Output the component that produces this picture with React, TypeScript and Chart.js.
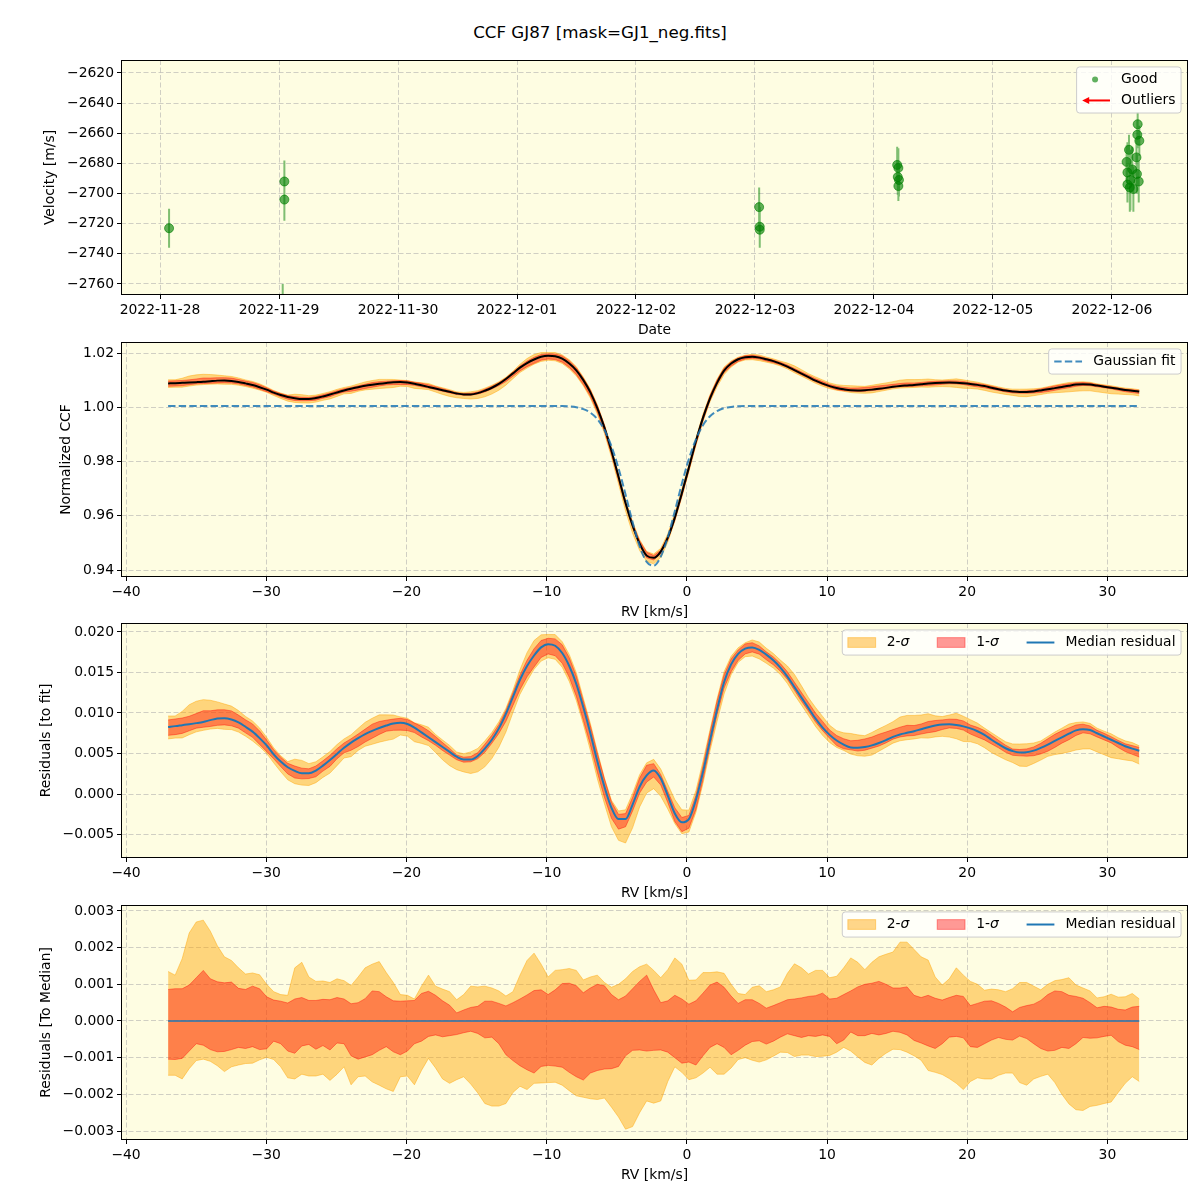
import React, { useEffect, useRef } from 'react';
import { Chart, registerables } from 'chart.js';

Chart.register(...registerables);

// ---------- figure text ----------
const FIG_TITLE = 'CCF GJ87 [mask=GJ1_neg.fits]';

// ---------- panel 1: RV time series ----------
// day offsets counted from 2022-11-28 00:00
const DATE_TICK_DAYS = [0, 1, 2, 3, 4, 5, 6, 7, 8];
const DATE_TICK_LABELS = [
  '2022-11-28', '2022-11-29', '2022-11-30', '2022-12-01', '2022-12-02',
  '2022-12-03', '2022-12-04', '2022-12-05', '2022-12-06',
];
const OBS_DAY = [
  0.076, 1.031, 1.045, 1.045, 5.035, 5.04, 5.04, 6.195, 6.205, 6.2, 6.21, 6.205,
  8.216, 8.213, 8.23, 8.143, 8.123, 8.206, 8.13, 8.17, 8.21, 8.155, 8.225, 8.15, 8.18, 8.13,
];
const OBS_RV = [
  -2723, -2785, -2692, -2704, -2709, -2722, -2724, -2681, -2683, -2689, -2691, -2695,
  -2654, -2661, -2665, -2671, -2679, -2676, -2686, -2684, -2687, -2691, -2692, -2696, -2697, -2694,
];
const OBS_ERR = [
  13, 25, 14, 14, 13, 13, 12, 12, 13, 12, 11, 10,
  8, 9, 10, 10, 11, 12, 20, 15, 13, 20, 14, 16, 15, 10,
];
const RV_TICKS_P1 = [-2760, -2740, -2720, -2700, -2680, -2660, -2640, -2620];

// ---------- panels 2-4: CCF profile on the RV grid ----------
const RV_START = -37.0;
const RV_STEP = 0.502;

// median residual to the Gaussian fit
const RESID_MEDIAN = [
  0.00828, 0.00838, 0.0085, 0.00862, 0.00875, 0.0089, 0.00912, 0.00932, 0.00936, 0.0092,
  0.00885, 0.0083, 0.0077, 0.0069, 0.006, 0.0049, 0.004, 0.0033, 0.00285, 0.00255,
  0.00255, 0.0029, 0.0035, 0.0042, 0.00495, 0.0057, 0.00635, 0.0069, 0.0074, 0.0078,
  0.00815, 0.00845, 0.0087, 0.0088, 0.00865, 0.0082, 0.0076, 0.007, 0.0064, 0.0058,
  0.0052, 0.0046, 0.00425, 0.00425, 0.0047, 0.0056, 0.0067, 0.0081, 0.0099, 0.012,
  0.0141, 0.0158, 0.0171, 0.0181, 0.0185, 0.0183, 0.0174, 0.0158, 0.0136, 0.0107,
  0.0075, 0.004, 0.0009, -0.0017, -0.0031, -0.0031, -0.0013, 0.0009, 0.0023, 0.0029,
  0.0019, -0.0002, -0.0024, -0.0035, -0.0031, -0.0007, 0.0027, 0.0066, 0.0104, 0.0138,
  0.016, 0.0173, 0.01795, 0.0181, 0.0178, 0.0172, 0.0165, 0.0156, 0.0145, 0.0132,
  0.0119, 0.0106, 0.0093, 0.0082, 0.0073, 0.0066, 0.0061, 0.00575, 0.0057, 0.0058,
  0.006, 0.0063, 0.00665, 0.00705, 0.00735, 0.00755, 0.00775, 0.008, 0.00825, 0.00845,
  0.00858, 0.0086, 0.00852, 0.00835, 0.0081, 0.00775, 0.0073, 0.0067, 0.00615, 0.00565,
  0.0053, 0.00512, 0.00515, 0.00535, 0.0057, 0.0061, 0.00655, 0.007, 0.00745, 0.00785,
  0.008, 0.0079, 0.0075, 0.0071, 0.0067, 0.0063, 0.0059, 0.0056, 0.00535,
];

// Gaussian fit to the CCF
const GAUSS_FIT = [
  1.0005, 1.0005, 1.0005, 1.0005, 1.0005, 1.0005, 1.0005, 1.0005, 1.0005, 1.0005,
  1.0005, 1.0005, 1.0005, 1.0005, 1.0005, 1.0005, 1.0005, 1.0005, 1.0005, 1.0005,
  1.0005, 1.0005, 1.0005, 1.0005, 1.0005, 1.0005, 1.0005, 1.0005, 1.0005, 1.0005,
  1.0005, 1.0005, 1.0005, 1.0005, 1.0005, 1.0005, 1.0005, 1.0005, 1.0005, 1.0005,
  1.0005, 1.0005, 1.0005, 1.0005, 1.0005, 1.0005, 1.0005, 1.0005, 1.0005, 1.0005,
  1.0005, 1.0005, 1.0005, 1.0005, 1.0005, 1.0005, 1.0005, 1.0003, 1.0, 0.9993,
  0.998, 0.9956, 0.9916, 0.9856, 0.9775, 0.9678, 0.9577, 0.9488, 0.943, 0.9416,
  0.9449, 0.9521, 0.9617, 0.9718, 0.9809, 0.9882, 0.9934, 0.9967, 0.9986, 0.9997,
  1.0001, 1.0004, 1.0005, 1.0005, 1.0005, 1.0005, 1.0005, 1.0005, 1.0005, 1.0005,
  1.0005, 1.0005, 1.0005, 1.0005, 1.0005, 1.0005, 1.0005, 1.0005, 1.0005, 1.0005,
  1.0005, 1.0005, 1.0005, 1.0005, 1.0005, 1.0005, 1.0005, 1.0005, 1.0005, 1.0005,
  1.0005, 1.0005, 1.0005, 1.0005, 1.0005, 1.0005, 1.0005, 1.0005, 1.0005, 1.0005,
  1.0005, 1.0005, 1.0005, 1.0005, 1.0005, 1.0005, 1.0005, 1.0005, 1.0005, 1.0005,
  1.0005, 1.0005, 1.0005, 1.0005, 1.0005, 1.0005, 1.0005, 1.0005, 1.0005,
];

// spread of the individual CCFs around the median, in units of 1e-3
const SPREAD_UNIT = 1e-3;
const Q2_HI = [
  1.35, 1.25, 1.7, 2.4, 2.7, 2.75, 2.45, 2.05, 1.75, 1.65,
  1.45, 1.28, 1.31, 1.26, 1.0, 0.8, 0.72, 0.7, 1.45, 1.6,
  1.2, 1.08, 1.09, 1.05, 1.15, 1.1, 0.97, 1.2, 1.45, 1.55,
  1.62, 1.32, 1.05, 0.72, 0.7, 0.6, 0.95, 1.25, 0.95, 0.87,
  0.8, 0.58, 0.72, 0.95, 0.93, 0.95, 0.9, 0.82, 0.68, 0.8,
  1.25, 1.65, 1.85, 1.55, 1.2, 1.38, 1.4, 1.43, 1.38, 1.12,
  1.2, 1.25, 1.05, 0.92, 1.0, 1.15, 1.35, 1.48, 1.55, 1.38,
  1.18, 1.4, 1.72, 1.55, 1.11, 1.12, 1.32, 1.32, 1.34, 1.3,
  1.0, 0.75, 0.72, 0.92, 0.96, 0.8, 0.85, 0.93, 1.3, 1.56,
  1.45, 1.28, 1.38, 1.38, 1.18, 1.22, 1.45, 1.72, 1.6, 1.4,
  1.6, 1.75, 1.82, 1.88, 2.15, 2.15, 1.95, 1.75, 1.66, 1.2,
  0.98, 1.15, 1.45, 1.25, 1.08, 1.0, 0.84, 0.87, 0.85, 0.8,
  0.88, 1.05, 1.05, 0.95, 0.85, 1.0, 1.1, 1.13, 1.18, 0.98,
  0.9, 0.82, 0.63, 0.66, 0.73, 0.65, 0.66, 0.75, 0.6,
];
const Q1_HI = [
  0.86, 0.88, 0.88, 0.98, 1.18, 1.38, 1.15, 1.07, 1.04, 1.06,
  0.89, 0.86, 0.95, 0.88, 0.66, 0.57, 0.54, 0.49, 0.6, 0.64,
  0.56, 0.56, 0.59, 0.58, 0.64, 0.6, 0.47, 0.5, 0.61, 0.82,
  0.8, 0.66, 0.55, 0.54, 0.55, 0.56, 0.75, 0.81, 0.7, 0.55,
  0.43, 0.22, 0.3, 0.37, 0.4, 0.54, 0.54, 0.48, 0.41, 0.5,
  0.6, 0.71, 0.83, 0.85, 0.72, 0.85, 1.02, 1.03, 0.96, 0.77,
  0.9, 1.0, 0.96, 0.72, 0.58, 0.68, 0.88, 1.08, 1.25, 0.85,
  0.5, 0.55, 0.7, 0.6, 0.46, 0.55, 0.76, 0.98, 1.06, 0.92,
  0.68, 0.48, 0.58, 0.58, 0.48, 0.35, 0.42, 0.5, 0.58, 0.6,
  0.63, 0.67, 0.69, 0.76, 0.6, 0.62, 0.72, 0.82, 0.93, 1.0,
  1.03, 1.08, 1.0, 0.9, 0.9, 0.93, 0.7, 0.64, 0.7, 0.62,
  0.57, 0.64, 0.7, 0.67, 0.42, 0.48, 0.54, 0.55, 0.48, 0.38,
  0.25, 0.37, 0.42, 0.46, 0.56, 0.72, 0.82, 0.8, 0.7, 0.67,
  0.62, 0.5, 0.36, 0.4, 0.38, 0.32, 0.3, 0.38, 0.4,
];
const Q1_LO = [
  -1.04, -1.05, -1.02, -0.82, -0.62, -0.66, -0.78, -0.84, -0.83, -0.78,
  -0.72, -0.75, -0.7, -0.78, -0.76, -0.55, -0.62, -0.82, -0.88, -0.68,
  -0.64, -0.77, -0.67, -0.79, -0.6, -0.62, -0.95, -1.04, -0.98, -0.92,
  -0.8, -0.7, -0.84, -0.92, -0.82, -0.62, -0.55, -0.42, -0.38, -0.43,
  -0.4, -0.37, -0.32, -0.28, -0.34, -0.46, -0.44, -0.62, -0.92, -1.08,
  -1.22, -1.33, -1.42, -1.24, -1.21, -1.23, -1.26, -1.4, -1.52, -1.61,
  -1.42, -1.35, -1.31, -1.3, -1.24, -0.95, -0.8, -0.79, -0.82, -0.8,
  -0.79, -0.85, -1.0, -1.15, -1.12, -1.2, -0.95, -0.72, -0.62, -0.72,
  -0.92, -0.8, -0.66, -0.56, -0.54, -0.63, -0.55, -0.44, -0.35, -0.4,
  -0.45, -0.4, -0.42, -0.38, -0.42, -0.62, -0.52, -0.3, -0.4, -0.4,
  -0.34, -0.38, -0.34, -0.28, -0.31, -0.38, -0.53, -0.6, -0.68, -0.75,
  -0.62, -0.44, -0.42, -0.46, -0.7, -0.72, -0.62, -0.52, -0.45, -0.5,
  -0.52, -0.41, -0.48, -0.62, -0.75, -0.82, -0.8, -0.72, -0.75, -0.62,
  -0.45, -0.47, -0.46, -0.42, -0.39, -0.56, -0.66, -0.7, -0.78,
];
const Q2_LO = [
  -1.48, -1.48, -1.58, -1.3, -1.08, -1.04, -1.1, -1.22, -1.38, -1.25,
  -1.2, -1.16, -1.15, -1.06, -0.99, -1.05, -1.25, -1.55, -1.58, -1.45,
  -1.5, -1.5, -1.45, -1.62, -1.45, -1.25, -1.74, -1.52, -1.5, -1.66,
  -1.75, -1.85, -1.92, -1.52, -1.5, -1.74, -1.35, -1.02, -1.28, -1.58,
  -1.7, -1.6, -1.52, -1.72, -1.96, -2.25, -2.32, -2.32, -2.25, -1.95,
  -1.78, -1.87, -1.7, -1.69, -1.68, -1.67, -1.75, -1.9, -2.04, -2.08,
  -2.12, -2.14, -2.1, -2.35, -2.62, -2.95, -2.88, -2.5, -2.18, -2.24,
  -2.18, -1.65, -1.25, -1.4, -1.6, -1.55, -1.42, -1.26, -1.45, -1.45,
  -1.28, -1.05, -1.0, -1.07, -1.12, -1.06, -0.96, -0.85, -0.86, -0.97,
  -0.93, -0.93, -0.97, -0.96, -0.94, -0.85, -0.72, -0.82, -0.98, -1.13,
  -1.2, -1.02, -0.88, -0.77, -0.78, -0.85, -0.95, -1.07, -1.35, -1.4,
  -1.46, -1.57, -1.7, -1.87, -1.65, -1.55, -1.58, -1.58, -1.48, -1.42,
  -1.42, -1.68, -1.75, -1.58, -1.51, -1.45, -1.68, -2.0, -2.26, -2.42,
  -2.44, -2.33, -2.3, -2.25, -2.21, -1.95, -1.7, -1.52, -1.65,
];

const RV_X_TICKS = [-40, -30, -20, -10, 0, 10, 20, 30];
const CCF_TICKS = [0.94, 0.96, 0.98, 1.0, 1.02];
const RESID_TICKS = [-0.005, 0, 0.005, 0.01, 0.015, 0.02];
const MEDIAN_TICKS = [-0.003, -0.002, -0.001, 0, 0.001, 0.002, 0.003];

// ---------- styling / layout ----------
const FONT_FAMILY = "'DejaVu Sans', 'Liberation Sans', sans-serif";
const FONT_SIZE = 13.9;
const FIG_W = 1200;
const AX_LEFT = 121;
const AX_RIGHT = 1188;
const AX_H = 235;
const PAD_TOP = 12;
const XAXIS_H = 50;
const PANEL_TOPS = [60, 342, 623, 905];

const BG = '#fefde2';
const GRID = 'rgba(170,170,170,0.55)';
const ORANGE = 'rgba(255,165,0,0.45)';
const RED = 'rgba(255,0,0,0.4)';
const C0 = '#1f77b4';
const FIT_BLUE = 'rgba(31,119,180,0.85)';
const GREEN_PT = 'rgba(0,128,0,0.62)';
const GREEN_BAR = 'rgba(0,128,0,0.5)';

Chart.defaults.font.family = FONT_FAMILY;
Chart.defaults.font.size = FONT_SIZE;
Chart.defaults.color = '#000';

const fmt = (v: number, d: number) => {
  const s = Math.abs(v).toFixed(d);
  return v < 0 && Number(s) !== 0 ? '\u2212' + s : s;
};

// ---------- derived tables ----------
const RV = RESID_MEDIAN.map((_, i) => RV_START + i * RV_STEP);
const CCF_MEDIAN = RESID_MEDIAN.map((r, i) => GAUSS_FIT[i] + r);
const ZERO_LINE = RESID_MEDIAN.map(() => 0);
const pts = (ys: number[]) => ys.map((y, i) => ({ x: RV[i], y }));
const around = (base: number[], q: number[]) => base.map((b, i) => ({ x: RV[i], y: b + q[i] * SPREAD_UNIT }));

// ---------- legend drawing ----------
type LegendEntry = {
  handle: 'dot' | 'arrow' | 'dash' | 'line' | 'patch';
  label: string;
  italicTail?: string;
  color: string;
  edge?: string;
};

function drawLegend(ctx: CanvasRenderingContext2D, area: any, entries: LegendEntry[], horizontal: boolean) {
  const fs = FONT_SIZE;
  const pad = 0.4 * fs;
  const hl = 2 * fs;
  const htp = 0.8 * fs;
  const colsp = 2 * fs;
  const lsp = 0.5 * fs;
  const rowH = 14;
  const normal = `${fs}px ${FONT_FAMILY}`;
  const italic = `italic ${fs}px ${FONT_FAMILY}`;
  const widths = entries.map((e) => {
    ctx.font = normal;
    let w = ctx.measureText(e.label).width;
    if (e.italicTail) {
      ctx.font = italic;
      w += ctx.measureText(e.italicTail).width;
    }
    return w;
  });
  let bw: number;
  let bh: number;
  if (horizontal) {
    bw = pad * 2 + widths.reduce((s, w) => s + hl + htp + w, 0) + colsp * (entries.length - 1);
    bh = pad * 2 + rowH;
  } else {
    bw = pad * 2 + hl + htp + Math.max(...widths);
    bh = pad * 2 + rowH * entries.length + lsp * (entries.length - 1);
  }
  const right = area.right - 0.5 * fs;
  const top = area.top + 0.5 * fs;
  const left = right - bw;

  ctx.save();
  const r = 3;
  ctx.beginPath();
  ctx.moveTo(left + r, top);
  ctx.lineTo(left + bw - r, top);
  ctx.arcTo(left + bw, top, left + bw, top + r, r);
  ctx.lineTo(left + bw, top + bh - r);
  ctx.arcTo(left + bw, top + bh, left + bw - r, top + bh, r);
  ctx.lineTo(left + r, top + bh);
  ctx.arcTo(left, top + bh, left, top + bh - r, r);
  ctx.lineTo(left, top + r);
  ctx.arcTo(left, top, left + r, top, r);
  ctx.closePath();
  ctx.fillStyle = 'rgba(255,255,255,0.8)';
  ctx.fill();
  ctx.strokeStyle = '#cccccc';
  ctx.lineWidth = 1;
  ctx.stroke();

  let x = left + pad;
  entries.forEach((e, i) => {
    const cy = horizontal ? top + pad + rowH / 2 : top + pad + rowH / 2 + i * (rowH + lsp);
    if (!horizontal) x = left + pad;
    ctx.save();
    if (e.handle === 'dot') {
      ctx.beginPath();
      ctx.arc(x + hl / 2 - 1, cy, 3, 0, Math.PI * 2);
      ctx.fillStyle = e.color;
      ctx.fill();
    } else if (e.handle === 'arrow') {
      ctx.strokeStyle = e.color;
      ctx.fillStyle = e.color;
      ctx.lineWidth = 2;
      ctx.beginPath();
      ctx.moveTo(x + hl, cy);
      ctx.lineTo(x + 5, cy);
      ctx.stroke();
      ctx.beginPath();
      ctx.moveTo(x, cy);
      ctx.lineTo(x + 7, cy - 3.5);
      ctx.lineTo(x + 7, cy + 3.5);
      ctx.closePath();
      ctx.fill();
    } else if (e.handle === 'dash' || e.handle === 'line') {
      ctx.strokeStyle = e.color;
      ctx.lineWidth = 2;
      if (e.handle === 'dash') ctx.setLineDash([7.4, 3.2]);
      ctx.beginPath();
      ctx.moveTo(x, cy);
      ctx.lineTo(x + hl, cy);
      ctx.stroke();
    } else {
      ctx.fillStyle = e.color;
      ctx.strokeStyle = e.edge || e.color;
      ctx.lineWidth = 1;
      ctx.fillRect(x, cy - 0.35 * fs, hl, 0.7 * fs);
      ctx.strokeRect(x, cy - 0.35 * fs, hl, 0.7 * fs);
    }
    ctx.restore();
    const tx = x + hl + htp;
    ctx.fillStyle = '#000';
    ctx.textBaseline = 'middle';
    ctx.textAlign = 'left';
    ctx.font = normal;
    ctx.fillText(e.label, tx, cy);
    if (e.italicTail) {
      const w0 = ctx.measureText(e.label).width;
      ctx.font = italic;
      ctx.fillText(e.italicTail, tx + w0, cy);
    }
    x = tx + widths[i] + colsp;
  });
  ctx.restore();
}

// ---------- per-chart decorations: background, frame, axis titles, legend ----------
function decor(opts: { xTitle: string; yTitle: string; yTitleX: number; legend: LegendEntry[]; horizontal: boolean }) {
  return {
    id: 'decor',
    beforeDraw(chart: any) {
      const { ctx, chartArea: a } = chart;
      ctx.save();
      ctx.fillStyle = BG;
      ctx.fillRect(a.left, a.top, a.right - a.left, a.bottom - a.top);
      ctx.restore();
    },
    afterDraw(chart: any) {
      const { ctx, chartArea: a } = chart;
      ctx.save();
      ctx.strokeStyle = '#000';
      ctx.lineWidth = 1;
      ctx.strokeRect(a.left + 0.5, a.top + 0.5, a.right - a.left - 1, a.bottom - a.top - 1);
      ctx.fillStyle = '#000';
      ctx.font = `${FONT_SIZE}px ${FONT_FAMILY}`;
      ctx.textAlign = 'center';
      ctx.textBaseline = 'middle';
      ctx.fillText(opts.xTitle, (a.left + a.right) / 2, a.bottom + 35);
      ctx.translate(opts.yTitleX, (a.top + a.bottom) / 2);
      ctx.rotate(-Math.PI / 2);
      ctx.fillText(opts.yTitle, 0, 0);
      ctx.restore();
      drawLegend(ctx, a, opts.legend, opts.horizontal);
    },
  };
}

function axisOptions(min: number, max: number, ticks: number[], label: (v: number) => string, isX: boolean) {
  return {
    type: 'linear',
    min,
    max,
    grid: { color: GRID, lineWidth: 1, drawTicks: true, tickLength: 4, tickColor: '#000', tickWidth: 1 },
    border: { display: false, dash: [5, 2.5] },
    ticks: {
      color: '#000',
      font: { family: FONT_FAMILY, size: FONT_SIZE },
      padding: 3,
      autoSkip: false,
      maxRotation: 0,
      minRotation: 0,
      callback: (v: number) => label(v),
    },
    afterBuildTicks: (scale: any) => {
      scale.ticks = ticks.map((value) => ({ value }));
    },
    afterFit: (scale: any) => {
      if (isX) scale.height = XAXIS_H;
      else scale.width = AX_LEFT;
    },
  };
}

function baseOptions(x: any, y: any) {
  return {
    responsive: false,
    maintainAspectRatio: false,
    animation: false,
    events: [],
    layout: { padding: { top: PAD_TOP, right: FIG_W - AX_RIGHT, left: 0, bottom: 0 } },
    plugins: { legend: { display: false }, tooltip: { enabled: false }, title: { display: false } },
    scales: { x, y },
  };
}

const RV_AXIS = () => axisOptions(-40.36, 35.75, RV_X_TICKS, (v) => fmt(v, 0), true);

function bandDatasets(base: number[]) {
  return [
    { data: around(base, Q2_LO), borderColor: ORANGE, borderWidth: 1, pointRadius: 0, fill: false, tension: 0, order: 6 },
    { data: around(base, Q2_HI), borderColor: ORANGE, backgroundColor: ORANGE, borderWidth: 1, pointRadius: 0, fill: '-1', tension: 0, order: 5 },
    { data: around(base, Q1_LO), borderColor: RED, borderWidth: 1, pointRadius: 0, fill: false, tension: 0, order: 4 },
    { data: around(base, Q1_HI), borderColor: RED, backgroundColor: RED, borderWidth: 1, pointRadius: 0, fill: '-1', tension: 0, order: 3 },
  ];
}

const SIGMA_LEGEND: LegendEntry[] = [
  { handle: 'patch', label: '2-', italicTail: '\u03c3', color: ORANGE },
  { handle: 'patch', label: '1-', italicTail: '\u03c3', color: RED },
  { handle: 'line', label: 'Median residual', color: C0 },
];

function timeSeriesConfig() {
  const points = OBS_DAY.map((d, i) => ({ x: d, y: OBS_RV[i] }));
  const bars: any[] = [];
  OBS_DAY.forEach((d, i) => {
    bars.push({ x: d, y: OBS_RV[i] - OBS_ERR[i] }, { x: d, y: OBS_RV[i] + OBS_ERR[i] }, { x: d, y: null });
  });
  return {
    type: 'line',
    data: {
      datasets: [
        { data: points, showLine: false, pointRadius: 4.5, pointBackgroundColor: GREEN_PT, pointBorderColor: GREEN_PT, pointBorderWidth: 1, clip: 0, order: 1 },
        { data: bars, borderColor: GREEN_BAR, borderWidth: 2, pointRadius: 0, spanGaps: false, clip: 0, order: 2 },
      ],
    },
    options: baseOptions(
      axisOptions(-0.328, 8.639, DATE_TICK_DAYS, (v) => DATE_TICK_LABELS[DATE_TICK_DAYS.indexOf(v)] ?? '', true),
      axisOptions(-2767.3, -2611.4, RV_TICKS_P1, (v) => fmt(v, 0), false),
    ),
    plugins: [
      decor({
        xTitle: 'Date',
        yTitle: 'Velocity [m/s]',
        yTitleX: 50,
        horizontal: false,
        legend: [
          { handle: 'dot', label: 'Good', color: GREEN_PT },
          { handle: 'arrow', label: 'Outliers', color: '#ff0000' },
        ],
      }),
    ],
  };
}

function ccfConfig() {
  return {
    type: 'line',
    data: {
      datasets: [
        ...bandDatasets(CCF_MEDIAN),
        { data: pts(CCF_MEDIAN), borderColor: '#000', borderWidth: 2, pointRadius: 0, cubicInterpolationMode: 'monotone', order: 2 },
        { data: pts(GAUSS_FIT), borderColor: FIT_BLUE, borderWidth: 2, borderDash: [7.4, 3.2], pointRadius: 0, cubicInterpolationMode: 'monotone', order: 1 },
      ],
    },
    options: baseOptions(RV_AXIS(), axisOptions(0.93742, 1.02406, CCF_TICKS, (v) => fmt(v, 2), false)),
    plugins: [
      decor({
        xTitle: 'RV [km/s]',
        yTitle: 'Normalized CCF',
        yTitleX: 66,
        horizontal: false,
        legend: [{ handle: 'dash', label: 'Gaussian fit', color: FIT_BLUE }],
      }),
    ],
  };
}

function residConfig() {
  return {
    type: 'line',
    data: {
      datasets: [
        ...bandDatasets(RESID_MEDIAN),
        { data: pts(RESID_MEDIAN), borderColor: C0, borderWidth: 2, pointRadius: 0, cubicInterpolationMode: 'monotone', order: 1 },
      ],
    },
    options: baseOptions(RV_AXIS(), axisOptions(-0.0079, 0.02111, RESID_TICKS, (v) => fmt(v, 3), false)),
    plugins: [decor({ xTitle: 'RV [km/s]', yTitle: 'Residuals [to fit]', yTitleX: 46, horizontal: true, legend: SIGMA_LEGEND })],
  };
}

function medianConfig() {
  return {
    type: 'line',
    data: {
      datasets: [
        ...bandDatasets(ZERO_LINE),
        { data: pts(ZERO_LINE), borderColor: C0, borderWidth: 1.5, pointRadius: 0, order: 1 },
      ],
    },
    options: baseOptions(RV_AXIS(), axisOptions(-0.003245, 0.003163, MEDIAN_TICKS, (v) => fmt(v, 3), false)),
    plugins: [decor({ xTitle: 'RV [km/s]', yTitle: 'Residuals [To Median]', yTitleX: 46, horizontal: true, legend: SIGMA_LEGEND })],
  };
}

function PanelChart({ top, build }: { top: number; build: () => any }) {
  const ref = useRef<HTMLCanvasElement>(null);
  const h = PAD_TOP + AX_H + XAXIS_H;
  useEffect(() => {
    const chart = new Chart(ref.current as HTMLCanvasElement, build());
    return () => chart.destroy();
  }, []);
  return (
    <canvas
      ref={ref}
      width={FIG_W}
      height={h}
      style={{ position: 'absolute', left: 0, top: top - PAD_TOP, width: FIG_W, height: h }}
    />
  );
}

export default function App() {
  return (
    <div style={{ position: 'absolute', left: 0, top: 0, width: FIG_W, height: 1200, background: '#fff', overflow: 'hidden' }}>
      <div
        style={{
          position: 'absolute',
          left: 0,
          top: 21,
          width: FIG_W,
          textAlign: 'center',
          fontFamily: FONT_FAMILY,
          fontSize: 16.7,
          lineHeight: '22px',
          color: '#000',
        }}
      >
        {FIG_TITLE}
      </div>
      <PanelChart top={PANEL_TOPS[0]} build={timeSeriesConfig} />
      <PanelChart top={PANEL_TOPS[1]} build={ccfConfig} />
      <PanelChart top={PANEL_TOPS[2]} build={residConfig} />
      <PanelChart top={PANEL_TOPS[3]} build={medianConfig} />
    </div>
  );
}
